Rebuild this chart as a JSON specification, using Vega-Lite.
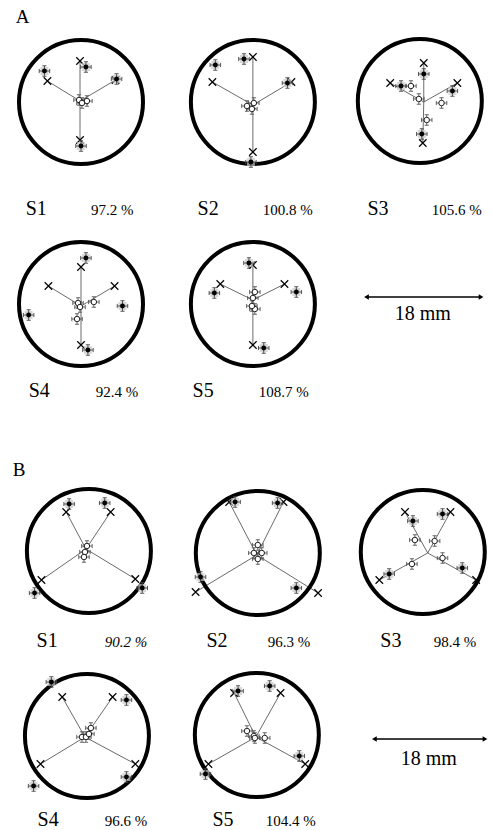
{
  "$schema": "https://vega.github.io/schema/vega-lite/v6.json",
  "autosize": {"type": "fit", "contains": "padding"},
  "width": 492,
  "height": 830,
  "padding": 0,
  "background": "white",
  "config": {"view": {"stroke": null}},
  "datasets": {
    "rings": [
      {"panel": "A-S1", "x": 82, "y": 102}, {"panel": "A-S2", "x": 256, "y": 102}, {"panel": "A-S3", "x": 425, "y": 101},
      {"panel": "A-S4", "x": 82, "y": 304}, {"panel": "A-S5", "x": 256, "y": 304},
      {"panel": "B-S1", "x": 90, "y": 551}, {"panel": "B-S2", "x": 261, "y": 553}, {"panel": "B-S3", "x": 428, "y": 552},
      {"panel": "B-S4", "x": 88, "y": 736}, {"panel": "B-S5", "x": 260, "y": 735}
    ],
    "spokes": [
      {"panel": "A-S1", "cx": 81, "cy": 101, "ex": 81, "ey": 61}, {"panel": "A-S1", "cx": 81, "cy": 101, "ex": 48, "ey": 81},
      {"panel": "A-S1", "cx": 81, "cy": 101, "ex": 117, "ey": 80}, {"panel": "A-S1", "cx": 81, "cy": 101, "ex": 81, "ey": 140},
      {"panel": "A-S2", "cx": 256, "cy": 105, "ex": 256, "ey": 57}, {"panel": "A-S2", "cx": 256, "cy": 105, "ex": 215, "ey": 82},
      {"panel": "A-S2", "cx": 256, "cy": 105, "ex": 295, "ey": 82}, {"panel": "A-S2", "cx": 256, "cy": 105, "ex": 256, "ey": 152},
      {"panel": "A-S3", "cx": 429, "cy": 102, "ex": 429, "ey": 63}, {"panel": "A-S3", "cx": 429, "cy": 102, "ex": 395, "ey": 83},
      {"panel": "A-S3", "cx": 429, "cy": 102, "ex": 463, "ey": 83}, {"panel": "A-S3", "cx": 429, "cy": 102, "ex": 428, "ey": 143},
      {"panel": "A-S4", "cx": 82, "cy": 306, "ex": 82, "ey": 267}, {"panel": "A-S4", "cx": 82, "cy": 306, "ex": 49, "ey": 286},
      {"panel": "A-S4", "cx": 82, "cy": 306, "ex": 116, "ey": 286}, {"panel": "A-S4", "cx": 82, "cy": 306, "ex": 82, "ey": 345},
      {"panel": "A-S5", "cx": 256, "cy": 300, "ex": 256, "ey": 265}, {"panel": "A-S5", "cx": 256, "cy": 300, "ex": 223, "ey": 284},
      {"panel": "A-S5", "cx": 256, "cy": 300, "ex": 288, "ey": 284}, {"panel": "A-S5", "cx": 256, "cy": 300, "ex": 256, "ey": 345},
      {"panel": "B-S1", "cx": 87, "cy": 549, "ex": 67, "ey": 512}, {"panel": "B-S1", "cx": 87, "cy": 549, "ex": 112, "ey": 512},
      {"panel": "B-S1", "cx": 87, "cy": 549, "ex": 42, "ey": 580}, {"panel": "B-S1", "cx": 87, "cy": 549, "ex": 137, "ey": 579},
      {"panel": "B-S2", "cx": 260, "cy": 555, "ex": 232, "ey": 502}, {"panel": "B-S2", "cx": 260, "cy": 555, "ex": 287, "ey": 502},
      {"panel": "B-S2", "cx": 260, "cy": 555, "ex": 198, "ey": 592}, {"panel": "B-S2", "cx": 260, "cy": 555, "ex": 322, "ey": 593},
      {"panel": "B-S3", "cx": 433, "cy": 553, "ex": 410, "ey": 512}, {"panel": "B-S3", "cx": 433, "cy": 553, "ex": 456, "ey": 512},
      {"panel": "B-S3", "cx": 433, "cy": 553, "ex": 384, "ey": 580}, {"panel": "B-S3", "cx": 433, "cy": 553, "ex": 482, "ey": 580},
      {"panel": "B-S4", "cx": 86, "cy": 737, "ex": 63, "ey": 697}, {"panel": "B-S4", "cx": 86, "cy": 737, "ex": 114, "ey": 697},
      {"panel": "B-S4", "cx": 86, "cy": 737, "ex": 41, "ey": 764}, {"panel": "B-S4", "cx": 86, "cy": 737, "ex": 137, "ey": 764},
      {"panel": "B-S5", "cx": 259, "cy": 737, "ex": 237, "ey": 693}, {"panel": "B-S5", "cx": 259, "cy": 737, "ex": 284, "ey": 693},
      {"panel": "B-S5", "cx": 259, "cy": 737, "ex": 211, "ey": 764}, {"panel": "B-S5", "cx": 259, "cy": 737, "ex": 309, "ey": 764}
    ],
    "filled": [
      {"panel": "A-S1", "x": 45, "y": 71}, {"panel": "A-S1", "x": 87, "y": 67}, {"panel": "A-S1", "x": 118, "y": 79}, {"panel": "A-S1", "x": 82, "y": 146},
      {"panel": "A-S2", "x": 218, "y": 65}, {"panel": "A-S2", "x": 247, "y": 59}, {"panel": "A-S2", "x": 291, "y": 83}, {"panel": "A-S2", "x": 254, "y": 162},
      {"panel": "A-S3", "x": 406, "y": 86}, {"panel": "A-S3", "x": 429, "y": 74}, {"panel": "A-S3", "x": 458, "y": 91}, {"panel": "A-S3", "x": 427, "y": 134},
      {"panel": "A-S4", "x": 87, "y": 258}, {"panel": "A-S4", "x": 29, "y": 315}, {"panel": "A-S4", "x": 124, "y": 306}, {"panel": "A-S4", "x": 89, "y": 350},
      {"panel": "A-S5", "x": 252, "y": 263}, {"panel": "A-S5", "x": 217, "y": 293}, {"panel": "A-S5", "x": 300, "y": 292}, {"panel": "A-S5", "x": 267, "y": 348},
      {"panel": "B-S1", "x": 70, "y": 504}, {"panel": "B-S1", "x": 106, "y": 503}, {"panel": "B-S1", "x": 35, "y": 593}, {"panel": "B-S1", "x": 144, "y": 588},
      {"panel": "B-S2", "x": 238, "y": 502}, {"panel": "B-S2", "x": 281, "y": 503}, {"panel": "B-S2", "x": 203, "y": 577}, {"panel": "B-S2", "x": 300, "y": 588},
      {"panel": "B-S3", "x": 418, "y": 521}, {"panel": "B-S3", "x": 448, "y": 514}, {"panel": "B-S3", "x": 394, "y": 574}, {"panel": "B-S3", "x": 468, "y": 568},
      {"panel": "B-S4", "x": 52, "y": 682}, {"panel": "B-S4", "x": 128, "y": 700}, {"panel": "B-S4", "x": 34, "y": 786}, {"panel": "B-S4", "x": 128, "y": 777},
      {"panel": "B-S5", "x": 241, "y": 691}, {"panel": "B-S5", "x": 273, "y": 686}, {"panel": "B-S5", "x": 208, "y": 774}, {"panel": "B-S5", "x": 303, "y": 756}
    ],
    "open": [
      {"panel": "A-S1", "x": 80, "y": 100}, {"panel": "A-S1", "x": 88, "y": 101}, {"panel": "A-S1", "x": 83, "y": 103},
      {"panel": "A-S2", "x": 250, "y": 106}, {"panel": "A-S2", "x": 257, "y": 103}, {"panel": "A-S2", "x": 255, "y": 109},
      {"panel": "A-S3", "x": 416, "y": 86}, {"panel": "A-S3", "x": 424, "y": 99}, {"panel": "A-S3", "x": 447, "y": 103}, {"panel": "A-S3", "x": 432, "y": 120},
      {"panel": "A-S4", "x": 79, "y": 303}, {"panel": "A-S4", "x": 95, "y": 302}, {"panel": "A-S4", "x": 78, "y": 319}, {"panel": "A-S4", "x": 81, "y": 307},
      {"panel": "A-S5", "x": 256, "y": 298}, {"panel": "A-S5", "x": 258, "y": 292}, {"panel": "A-S5", "x": 258, "y": 309}, {"panel": "A-S5", "x": 255, "y": 306},
      {"panel": "B-S1", "x": 88, "y": 546}, {"panel": "B-S1", "x": 86, "y": 552}, {"panel": "B-S1", "x": 85, "y": 557},
      {"panel": "B-S2", "x": 261, "y": 545}, {"panel": "B-S2", "x": 257, "y": 553}, {"panel": "B-S2", "x": 265, "y": 553}, {"panel": "B-S2", "x": 261, "y": 559},
      {"panel": "B-S3", "x": 420, "y": 540}, {"panel": "B-S3", "x": 440, "y": 541}, {"panel": "B-S3", "x": 417, "y": 564}, {"panel": "B-S3", "x": 448, "y": 558},
      {"panel": "B-S4", "x": 83, "y": 737}, {"panel": "B-S4", "x": 87, "y": 737}, {"panel": "B-S4", "x": 92, "y": 728}, {"panel": "B-S4", "x": 90, "y": 734},
      {"panel": "B-S5", "x": 250, "y": 731}, {"panel": "B-S5", "x": 257, "y": 736}, {"panel": "B-S5", "x": 268, "y": 738}, {"panel": "B-S5", "x": 258, "y": 738}
    ],
    "names": [
      {"t": "S1", "x": 26, "y": 215}, {"t": "S2", "x": 200, "y": 215}, {"t": "S3", "x": 372, "y": 215},
      {"t": "S4", "x": 29, "y": 397}, {"t": "S5", "x": 195, "y": 397},
      {"t": "S1", "x": 37, "y": 647}, {"t": "S2", "x": 209, "y": 647}, {"t": "S3", "x": 385, "y": 647},
      {"t": "S4", "x": 38, "y": 826}, {"t": "S5", "x": 215, "y": 826}
    ],
    "pcts": [
      {"t": "97.2 %", "x": 92, "y": 215}, {"t": "100.8 %", "x": 266, "y": 215}, {"t": "105.6 %", "x": 437, "y": 215},
      {"t": "92.4 %", "x": 97, "y": 397}, {"t": "108.7 %", "x": 262, "y": 397},
      {"t": "90.2 %", "x": 106, "y": 647}, {"t": "96.3 %", "x": 271, "y": 647}, {"t": "98.4 %", "x": 439, "y": 647},
      {"t": "96.6 %", "x": 106, "y": 826}, {"t": "104.4 %", "x": 269, "y": 826}
    ],
    "panels": [{"t": "A", "x": 16, "y": 23}, {"t": "B", "x": 13, "y": 476}],
    "bars": [
      {"x0": 371, "x1": 487, "y": 297, "lx": 428, "ly": 320, "t": "18 mm"},
      {"x0": 379, "x1": 491, "y": 739, "lx": 434, "ly": 765, "t": "18 mm"}
    ]
  },
  "layer": [
    {
      "data": {"name": "spokes"},
      "mark": {"type": "rule", "color": "#444", "strokeWidth": 0.8},
      "encoding": {
        "x": {"field": "cx", "type": "quantitative", "scale": {"domain": [0, 492], "nice": false, "zero": false}, "axis": null},
        "y": {"field": "cy", "type": "quantitative", "scale": {"domain": [0, 830], "nice": false, "zero": false, "reverse": true}, "axis": null},
        "x2": {"field": "ex"},
        "y2": {"field": "ey"}
      }
    },
    {
      "data": {"name": "rings"},
      "mark": {"type": "point", "shape": "circle", "filled": false, "size": 15376, "stroke": "black", "strokeWidth": 4, "opacity": 1},
      "encoding": {
        "x": {"field": "x", "type": "quantitative", "scale": {"domain": [0, 492], "nice": false, "zero": false}, "axis": null},
        "y": {"field": "y", "type": "quantitative", "scale": {"domain": [0, 830], "nice": false, "zero": false, "reverse": true}, "axis": null}
      }
    },
    {
      "data": {"name": "spokes"},
      "mark": {"type": "point", "shape": "M-1,-1L1,1M1,-1L-1,1", "filled": false, "size": 56, "stroke": "black", "strokeWidth": 1.2, "opacity": 1},
      "encoding": {
        "x": {"field": "ex", "type": "quantitative", "scale": {"domain": [0, 492], "nice": false, "zero": false}, "axis": null},
        "y": {"field": "ey", "type": "quantitative", "scale": {"domain": [0, 830], "nice": false, "zero": false, "reverse": true}, "axis": null}
      }
    },
    {
      "data": {"name": "open"},
      "mark": {"type": "point", "shape": "M-1,0L1,0M0,-1L0,1M-1,-0.4L-1,0.4M1,-0.4L1,0.4M-0.4,-1L0.4,-1M-0.4,1L0.4,1", "filled": false, "size": 110, "stroke": "#555", "strokeWidth": 0.9, "opacity": 1},
      "encoding": {
        "x": {"field": "x", "type": "quantitative", "scale": {"domain": [0, 492], "nice": false, "zero": false}, "axis": null},
        "y": {"field": "y", "type": "quantitative", "scale": {"domain": [0, 830], "nice": false, "zero": false, "reverse": true}, "axis": null}
      }
    },
    {
      "data": {"name": "open"},
      "mark": {"type": "point", "shape": "circle", "filled": true, "fill": "white", "size": 30, "stroke": "#222", "strokeWidth": 1, "opacity": 1},
      "encoding": {
        "x": {"field": "x", "type": "quantitative", "scale": {"domain": [0, 492], "nice": false, "zero": false}, "axis": null},
        "y": {"field": "y", "type": "quantitative", "scale": {"domain": [0, 830], "nice": false, "zero": false, "reverse": true}, "axis": null}
      }
    },
    {
      "data": {"name": "filled"},
      "mark": {"type": "point", "shape": "square", "filled": true, "fill": "#c8c8c8", "size": 64, "opacity": 0.7},
      "encoding": {
        "x": {"field": "x", "type": "quantitative", "scale": {"domain": [0, 492], "nice": false, "zero": false}, "axis": null},
        "y": {"field": "y", "type": "quantitative", "scale": {"domain": [0, 830], "nice": false, "zero": false, "reverse": true}, "axis": null}
      }
    },
    {
      "data": {"name": "filled"},
      "mark": {"type": "point", "shape": "M-1,0L1,0M0,-1L0,1M-1,-0.4L-1,0.4M1,-0.4L1,0.4M-0.4,-1L0.4,-1M-0.4,1L0.4,1", "filled": false, "size": 110, "stroke": "#444", "strokeWidth": 0.9, "opacity": 1},
      "encoding": {
        "x": {"field": "x", "type": "quantitative", "scale": {"domain": [0, 492], "nice": false, "zero": false}, "axis": null},
        "y": {"field": "y", "type": "quantitative", "scale": {"domain": [0, 830], "nice": false, "zero": false, "reverse": true}, "axis": null}
      }
    },
    {
      "data": {"name": "filled"},
      "mark": {"type": "point", "shape": "circle", "filled": true, "fill": "black", "size": 24, "opacity": 1},
      "encoding": {
        "x": {"field": "x", "type": "quantitative", "scale": {"domain": [0, 492], "nice": false, "zero": false}, "axis": null},
        "y": {"field": "y", "type": "quantitative", "scale": {"domain": [0, 830], "nice": false, "zero": false, "reverse": true}, "axis": null}
      }
    },
    {
      "data": {"name": "names"},
      "mark": {"type": "text", "align": "left", "baseline": "alphabetic", "font": "Liberation Serif", "fontSize": 20, "color": "black"},
      "encoding": {
        "x": {"field": "x", "type": "quantitative", "scale": {"domain": [0, 492], "nice": false, "zero": false}, "axis": null},
        "y": {"field": "y", "type": "quantitative", "scale": {"domain": [0, 830], "nice": false, "zero": false, "reverse": true}, "axis": null},
        "text": {"field": "t"}
      }
    },
    {
      "data": {"name": "pcts"},
      "transform": [{"filter": "datum.t !== '90.2 %'"}],
      "mark": {"type": "text", "align": "left", "baseline": "alphabetic", "font": "Liberation Serif", "fontSize": 15, "color": "black"},
      "encoding": {
        "x": {"field": "x", "type": "quantitative", "scale": {"domain": [0, 492], "nice": false, "zero": false}, "axis": null},
        "y": {"field": "y", "type": "quantitative", "scale": {"domain": [0, 830], "nice": false, "zero": false, "reverse": true}, "axis": null},
        "text": {"field": "t"}
      }
    },
    {
      "data": {"name": "pcts"},
      "transform": [{"filter": "datum.t === '90.2 %'"}],
      "mark": {"type": "text", "align": "left", "baseline": "alphabetic", "font": "Liberation Serif", "fontSize": 15, "fontStyle": "italic", "color": "black"},
      "encoding": {
        "x": {"field": "x", "type": "quantitative", "scale": {"domain": [0, 492], "nice": false, "zero": false}, "axis": null},
        "y": {"field": "y", "type": "quantitative", "scale": {"domain": [0, 830], "nice": false, "zero": false, "reverse": true}, "axis": null},
        "text": {"field": "t"}
      }
    },
    {
      "data": {"name": "panels"},
      "mark": {"type": "text", "align": "left", "baseline": "alphabetic", "font": "Liberation Serif", "fontSize": 19, "color": "black"},
      "encoding": {
        "x": {"field": "x", "type": "quantitative", "scale": {"domain": [0, 492], "nice": false, "zero": false}, "axis": null},
        "y": {"field": "y", "type": "quantitative", "scale": {"domain": [0, 830], "nice": false, "zero": false, "reverse": true}, "axis": null},
        "text": {"field": "t"}
      }
    },
    {
      "data": {"name": "bars"},
      "mark": {"type": "rule", "color": "black", "strokeWidth": 1.6},
      "encoding": {
        "x": {"field": "x0", "type": "quantitative", "scale": {"domain": [0, 492], "nice": false, "zero": false}, "axis": null},
        "x2": {"field": "x1"},
        "y": {"field": "y", "type": "quantitative", "scale": {"domain": [0, 830], "nice": false, "zero": false, "reverse": true}, "axis": null}
      }
    },
    {
      "data": {"name": "bars"},
      "mark": {"type": "point", "shape": "triangle-left", "filled": true, "fill": "black", "size": 30, "opacity": 1},
      "encoding": {
        "x": {"field": "x0", "type": "quantitative", "scale": {"domain": [0, 492], "nice": false, "zero": false}, "axis": null},
        "y": {"field": "y", "type": "quantitative", "scale": {"domain": [0, 830], "nice": false, "zero": false, "reverse": true}, "axis": null}
      }
    },
    {
      "data": {"name": "bars"},
      "mark": {"type": "point", "shape": "triangle-right", "filled": true, "fill": "black", "size": 30, "opacity": 1},
      "encoding": {
        "x": {"field": "x1", "type": "quantitative", "scale": {"domain": [0, 492], "nice": false, "zero": false}, "axis": null},
        "y": {"field": "y", "type": "quantitative", "scale": {"domain": [0, 830], "nice": false, "zero": false, "reverse": true}, "axis": null}
      }
    },
    {
      "data": {"name": "bars"},
      "mark": {"type": "text", "align": "center", "baseline": "alphabetic", "font": "Liberation Serif", "fontSize": 20, "color": "black"},
      "encoding": {
        "x": {"field": "lx", "type": "quantitative", "scale": {"domain": [0, 492], "nice": false, "zero": false}, "axis": null},
        "y": {"field": "ly", "type": "quantitative", "scale": {"domain": [0, 830], "nice": false, "zero": false, "reverse": true}, "axis": null},
        "text": {"field": "t"}
      }
    }
  ]
}
